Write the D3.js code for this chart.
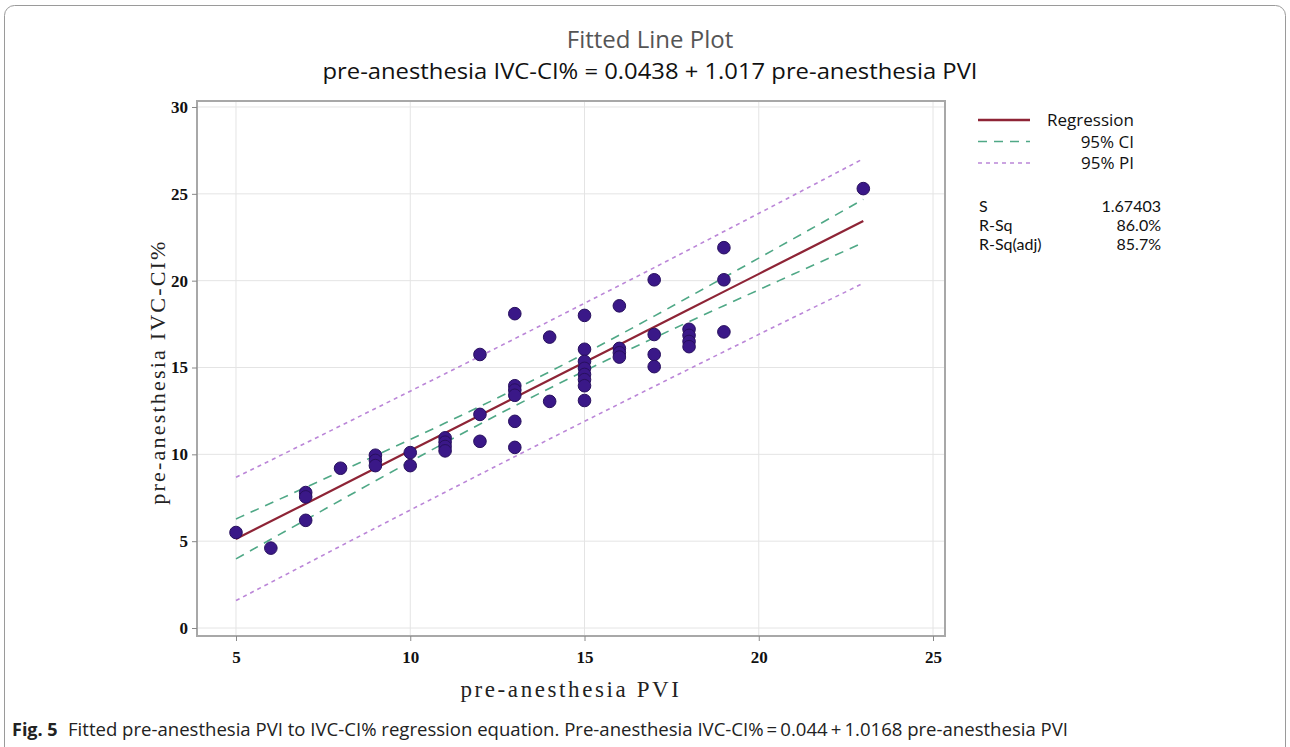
<!DOCTYPE html>
<html>
<head>
<meta charset="utf-8">
<script src="https://cdn.jsdelivr.net/npm/d3@7"></script>
<style>
  body { margin: 0; background: #fff; }
  svg { display: block; }
</style>
</head>
<body>
<div id="app"></div>
<script>
const WIDTH = 1290, HEIGHT = 747;

// observations: pre-anesthesia PVI (x) vs pre-anesthesia IVC-CI% (y)
const pvi = [5, 6, 7, 7, 7, 8, 9, 9, 9, 10, 10, 11, 11, 11, 11,
  12, 12, 12, 13, 13, 13, 13, 13, 13, 14, 14,
  15, 15, 15, 15, 15, 15, 15, 15, 16, 16, 16, 16,
  17, 17, 17, 17, 18, 18, 18, 18, 19, 19, 19, 23];
const ivc = [5.5, 4.6, 7.8, 7.55, 6.2, 9.2, 9.95, 9.65, 9.35, 10.1, 9.35, 10.95, 10.7, 10.45, 10.2,
  15.75, 12.3, 10.75, 18.1, 13.95, 13.7, 13.4, 11.9, 10.4, 16.75, 13.05,
  18.0, 16.05, 15.35, 14.95, 14.6, 14.3, 13.95, 13.1, 18.55, 16.1, 15.85, 15.6,
  20.05, 16.9, 15.75, 15.05, 17.2, 16.85, 16.5, 16.2, 21.9, 20.05, 17.05, 25.3];

// fitted line and bands, read at these PVI values
const bandX = [5, 7, 9, 11, 13, 15, 17, 19, 21, 23];
const fit = [5.13, 7.16, 9.20, 11.23, 13.27, 15.30, 17.33, 19.37, 21.40, 23.44];
const ciLow = [3.98, 6.23, 8.47, 10.67, 12.79, 14.80, 16.71, 18.56, 20.38, 22.19];
const ciHigh = [6.28, 8.10, 9.93, 11.80, 13.74, 15.80, 17.96, 20.18, 22.42, 24.68];
const piLow = [1.58, 3.67, 5.76, 7.82, 9.87, 11.90, 13.91, 15.91, 17.89, 19.85];
const piHigh = [8.68, 10.65, 12.64, 14.64, 16.66, 18.70, 20.75, 22.83, 24.92, 27.02];

const xTicks = [5, 10, 15, 20, 25];
const yTicks = [0, 5, 10, 15, 20, 25, 30];

const legendItems = ['Regression', '95% CI', '95% PI'];
const statNames = ['S', 'R-Sq', 'R-Sq(adj)'];
const statValues = ['1.67403', '86.0%', '85.7%'];

const COL_FIT = '#8e2436';
const COL_CI = '#4fa886';
const COL_PI = '#bb86d8';
const COL_PT = '#3a1888';

const plot = { left: 197, right: 945, top: 101, bottom: 636 };

const svg = d3.select('#app')
  .append('svg')
    .attr('width', WIDTH)
    .attr('height', HEIGHT);

// outer figure border
svg.append('rect')
  .attr('x', 4.5).attr('y', 5.5)
  .attr('width', 1281).attr('height', 770)
  .attr('rx', 10)
  .attr('fill', 'none')
  .attr('stroke', '#9a9a9a')
  .attr('stroke-width', 1);

const x = d3.scaleLinear()
  .domain([3.881, 25.344])
  .range([plot.left, plot.right]);

const y = d3.scaleLinear()
  .domain([-0.46, 30.345])
  .range([plot.bottom, plot.top]);

// grid
svg.append('g')
  .selectAll('line')
  .data(xTicks)
  .enter()
    .append('line')
    .attr('x1', d => x(d)).attr('x2', d => x(d))
    .attr('y1', plot.top).attr('y2', plot.bottom)
    .attr('stroke', '#e4e4e4');

svg.append('g')
  .selectAll('line')
  .data(yTicks)
  .enter()
    .append('line')
    .attr('y1', d => y(d)).attr('y2', d => y(d))
    .attr('x1', plot.left).attr('x2', plot.right)
    .attr('stroke', '#e4e4e4');

// frame
svg.append('rect')
  .attr('x', plot.left).attr('y', plot.top)
  .attr('width', plot.right - plot.left)
  .attr('height', plot.bottom - plot.top)
  .attr('fill', 'none')
  .attr('stroke', '#a8a8a8')
  .attr('stroke-width', 2);

// axes
const xAxis = svg.append('g')
  .attr('transform', `translate(0,${plot.bottom})`)
  .call(d3.axisBottom(x).tickValues(xTicks).tickSize(5).tickPadding(10));
const yAxis = svg.append('g')
  .attr('transform', `translate(${plot.left},0)`)
  .call(d3.axisLeft(y).tickValues(yTicks).tickSize(5).tickPadding(4));

[xAxis, yAxis].forEach(g => {
  g.select('.domain').remove();
  g.selectAll('.tick line').attr('stroke', '#888');
  g.selectAll('.tick text')
    .attr('fill', '#111')
    .style('font-family', '"Liberation Serif", "DejaVu Serif", serif')
    .style('font-weight', 'bold')
    .style('font-size', '17px');
});

const line = d3.line()
  .x((d, i) => x(bandX[i]))
  .y(d => y(d))
  .curve(d3.curveMonotoneX);

[piLow, piHigh].forEach(arr => {
  svg.append('path')
    .attr('d', line(arr))
    .attr('fill', 'none')
    .attr('stroke', COL_PI)
    .attr('stroke-width', 1.6)
    .attr('stroke-dasharray', '4,4');
});

[ciLow, ciHigh].forEach(arr => {
  svg.append('path')
    .attr('d', line(arr))
    .attr('fill', 'none')
    .attr('stroke', COL_CI)
    .attr('stroke-width', 1.6)
    .attr('stroke-dasharray', '9,7');
});

svg.append('path')
  .attr('d', line(fit))
  .attr('fill', 'none')
  .attr('stroke', COL_FIT)
  .attr('stroke-width', 2.2);

// points
svg.append('g')
  .selectAll('circle')
  .data(pvi)
  .enter()
    .append('circle')
    .attr('cx', d => x(d))
    .attr('cy', (d, i) => y(ivc[i]))
    .attr('r', 6.3)
    .attr('fill', COL_PT)
    .attr('stroke', '#28105e')
    .attr('stroke-width', 1);

// titles
const sans = '"Open Sans", "Noto Sans", sans-serif';
svg.append('text')
  .attr('x', 650).attr('y', 48)
  .attr('text-anchor', 'middle')
  .style('font-family', sans)
  .style('font-size', '24px')
  .attr('fill', '#555')
  .text('Fitted Line Plot');

svg.append('text')
  .attr('x', 650).attr('y', 79)
  .attr('text-anchor', 'middle')
  .attr('textLength', 655)
  .attr('lengthAdjust', 'spacingAndGlyphs')
  .style('font-family', sans)
  .style('font-size', '21px')
  .attr('fill', '#111')
  .text('pre-anesthesia IVC-CI% = 0.0438 + 1.017 pre-anesthesia PVI');

// axis titles
const serif = '"Liberation Serif", "DejaVu Serif", serif';
svg.append('text')
  .attr('x', 571).attr('y', 697)
  .attr('text-anchor', 'middle')
  .style('font-family', serif)
  .style('font-size', '23px')
  .style('letter-spacing', '2.6px')
  .attr('fill', '#222')
  .text('pre-anesthesia PVI');

svg.append('text')
  .attr('transform', 'translate(165,372) rotate(-90)')
  .attr('text-anchor', 'middle')
  .style('font-family', serif)
  .style('font-size', '22px')
  .style('letter-spacing', '2.2px')
  .attr('fill', '#222')
  .text('pre-anesthesia IVC-CI%');

// legend
const legend = svg.append('g');
const legendStyles = [
  { stroke: COL_FIT, dash: null, w: 2.4 },
  { stroke: COL_CI, dash: '9,7', w: 1.6 },
  { stroke: COL_PI, dash: '4,4', w: 1.6 }
];
legendItems.forEach((name, i) => {
  const ly = 120 + i * 21.5;
  legend.append('line')
    .attr('x1', 978).attr('x2', 1030)
    .attr('y1', ly).attr('y2', ly)
    .attr('stroke', legendStyles[i].stroke)
    .attr('stroke-width', legendStyles[i].w)
    .attr('stroke-dasharray', legendStyles[i].dash);
  legend.append('text')
    .attr('x', 1134).attr('y', ly + 6)
    .attr('text-anchor', 'end')
    .style('font-family', sans)
    .style('font-size', '17px')
    .attr('fill', '#111')
    .text(name);
});

statNames.forEach((name, i) => {
  const sy = 212 + i * 19;
  legend.append('text')
    .attr('x', 979).attr('y', sy)
    .style('font-family', '"Lato", "Open Sans", sans-serif')
    .style('font-size', '16px')
    .attr('fill', '#111')
    .text(name);
  legend.append('text')
    .attr('x', 1161).attr('y', sy)
    .attr('text-anchor', 'end')
    .style('font-family', '"Lato", "Open Sans", sans-serif')
    .style('font-size', '16px')
    .attr('fill', '#111')
    .text(statValues[i]);
});

// caption
const caption = svg.append('text')
  .attr('x', 12).attr('y', 736)
  .style('font-family', sans)
  .style('font-size', '18px')
  .attr('fill', '#222');
caption.append('tspan')
  .style('font-weight', 'bold')
  .text('Fig. 5');
const capText = caption.append('tspan')
  .attr('x', 68)
  .text('Fitted pre-anesthesia PVI to IVC-CI% regression equation. Pre-anesthesia IVC-CI%\u2009=\u20090.044\u2009+\u20091.0168 pre-anesthesia PVI');
capText.attr('textLength', 1000).attr('lengthAdjust', 'spacingAndGlyphs');
</script>
</body>
</html>
